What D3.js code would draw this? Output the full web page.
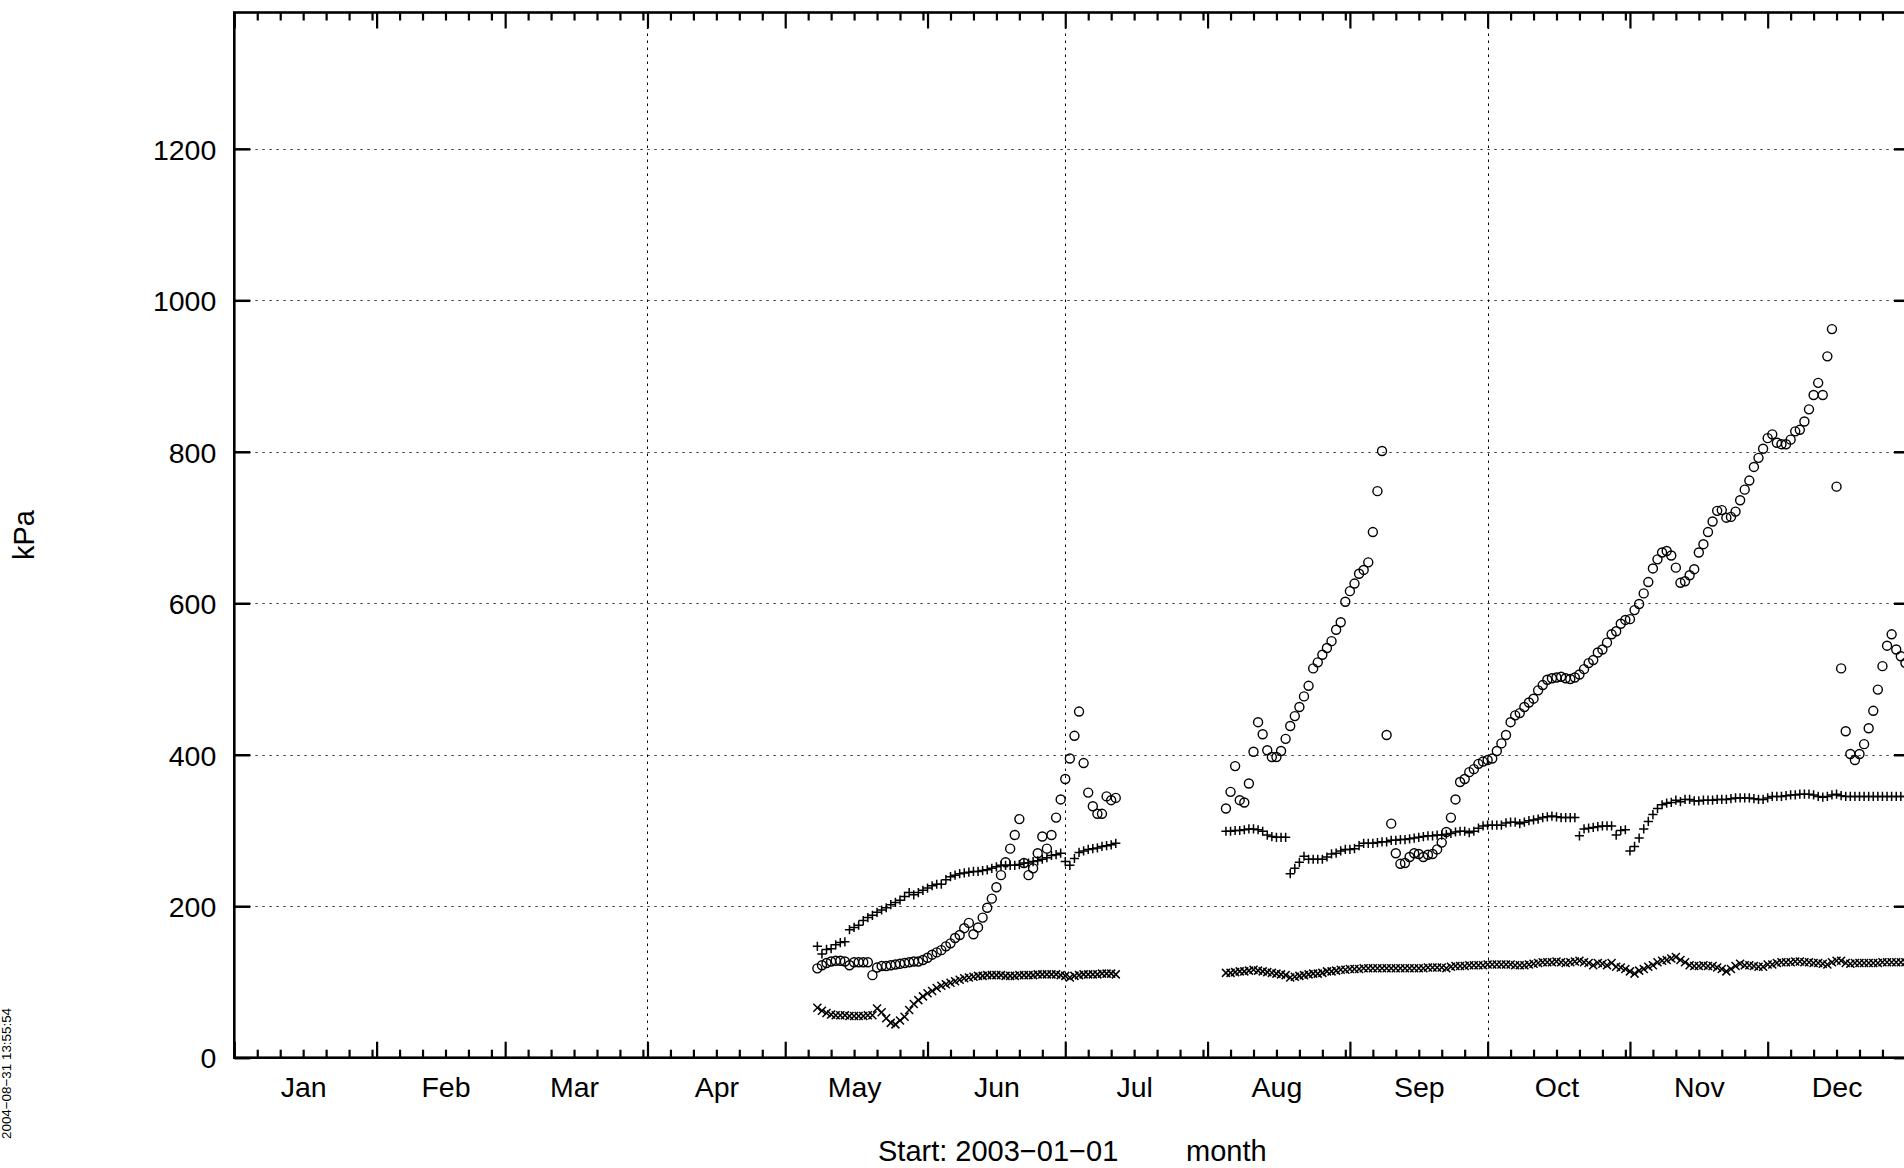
<!DOCTYPE html>
<html><head><meta charset="utf-8">
<script src="https://cdn.jsdelivr.net/npm/d3@7"></script>
<style>
body{margin:0;background:#fff}
svg{display:block}
text{font-family:"Liberation Sans",Arial,Helvetica,sans-serif;fill:#000}
</style>
</head><body>
<svg id="chart" width="1904" height="1168"></svg>
<script>
// ---------- data ----------
const monthLabels = ["Jan","Feb","Mar","Apr","May","Jun","Jul","Aug","Sep","Oct","Nov","Dec"];
const yTickValues = [0,200,400,600,800,1000,1200];
const yTitle = "kPa";
const xTitleStart = "Start: 2003\u221201\u221201";
const xTitleUnit = "month";
const stamp = "2004\u221208\u221231 13:55:54";

// first block of daily readings starts 2003-05-08
const seg1Start = "2003-05-08";
const seg1Plus = [147,137,143,144,149,152,153,
  169,172,175,181,185,188,192,195,198,202,205,208,213,218,215,218,221,224,227,229,229,235,239,241,243,244,245,246,246,247,248,250,252,254,254,254,254,255,257,257,259,260,262,264,267,268,270,
  259,254,263,271,273,275,276,277,279,280,281,283];
const seg1Cross = [66,62,59,57,56,56,56,55,55,55,55,56,56,65,60,52,46,44,49,54,63,71,76,81,85,88,92,95,97,99,101,103,105,106,107,108,108,109,109,109,109,108,108,108,109,109,109,109,110,110,110,110,110,109,108,106,108,109,110,110,110,110,111,111,111,110];
const seg1Circle = [118,122,125,127,128,128,127,122,126,126,126,126,109,119,121,121,122,123,124,125,126,127,127,129,132,136,139,142,147,151,158,162,171,178,163,172,185,198,210,225,241,258,276,294,315,257,241,250,270,292,276,294,317,341,368,395,425,457,389,350,332,322,322,345,340,343];

// second block of daily readings starts 2003-08-05
const seg2Start = "2003-08-05";
const seg2Plus = [299,299,300,300,301,302,302,301,299,294,292,291,291,291,
  243,250,258,266,262,262,262,262,265,269,270,273,275,275,276,280,283,283,283,284,285,285,287,287,288,288,289,290,291,292,293,293,294,294,295,296,298,299,299,297,299,303,306,307,307,307,307,310,311,311,309,311,313,314,315,317,318,319,
  318,317,317,317,317,293,302,303,304,305,306,306,306,294,300,301,273,279,290,302,312,321,329,334,336,337,340,338,341,341,339,339,340,340,340,341,341,341,342,343,343,343,343,342,341,341,343,345,345,345,346,347,347,348,348,348,347,345,344,345,347,348,346,345,345,345,345,345,345,345,345,345,345,345,345,345,345];
const seg2Cross = [112,112,113,114,114,115,116,115,114,113,112,111,110,109,
  106,107,108,109,110,111,111,112,114,114,115,116,116,117,117,117,118,118,118,118,118,118,118,118,118,118,118,118,118,118,119,119,119,119,118,120,121,121,121,122,122,122,122,123,123,123,123,123,123,122,122,122,123,124,125,126,126,
  126,127,126,125,126,127,128,126,125,122,125,124,122,125,120,119,117,114,111,115,117,120,122,126,128,129,131,133,129,126,122,121,121,122,121,121,119,117,114,117,121,124,122,122,121,120,120,123,123,125,126,126,126,127,127,126,126,125,125,124,123,126,128,128,125,124,125,125,125,125,125,125,126,126,126,126,126,126];
const seg2Circle = [329,351,385,340,337,362,404,443,427,406,397,397,405,421,438,451,463,477,491,514,522,532,541,550,565,575,602,616,626,639,644,654,694,748,801,426,
  309,270,256,257,265,270,269,265,268,269,275,284,298,317,341,364,368,377,381,388,391,393,395,405,415,426,443,452,455,463,469,474,485,492,499,
  501,502,503,501,500,502,506,513,521,525,535,539,548,559,563,573,578,579,591,599,613,628,646,658,667,669,663,647,627,629,637,645,667,678,694,708,722,723,713,714,721,736,750,762,780,792,804,818,823,812,810,810,816,827,829,840,856,875,891,875,926,962,754,514,431,401,393,401,414,435,458,486,517,544,559,539,530,521];

// ---------- layout ----------
const W = 1904, H = 1168;
const L = 234.3, R = 1910, T = 12.5, B = 1057.7;
const svg = d3.select("#chart");
svg.append("rect").attr("width",W).attr("height",H).attr("fill","#fff");

const parse = d3.utcParse("%Y-%m-%d");
const x0 = new Date(Date.UTC(2003,0,1)), x1 = new Date(Date.UTC(2004,0,1));
const x = d3.scaleUtc().domain([x0,x1]).range([L,R]);
const y = d3.scaleLinear().domain([0,1380]).range([B,T]);

function series(start, vals){
  const s = parse(start);
  return vals.map((v,i)=>({date:d3.utcDay.offset(s,i), v}));
}

// grid
const grid = svg.append("g").attr("stroke","#000").attr("stroke-width",1).attr("stroke-dasharray","2.5,4.5").attr("fill","none");
yTickValues.filter(v=>v>0).forEach(v=>{
  grid.append("line").attr("x1",L).attr("x2",R).attr("y1",Math.round(y(v))+0.5).attr("y2",Math.round(y(v))+0.5).attr("stroke","#444");
});
const quarterStarts = d3.utcMonth.every(3).range(d3.utcDay.offset(x0,1), x1);
quarterStarts.forEach(d=>{
  grid.append("line").attr("x1",Math.round(x(d))+0.5).attr("x2",Math.round(x(d))+0.5).attr("y1",T).attr("y2",B);
});

// month ticks
const monthStarts = d3.utcMonth.range(x0, d3.utcDay.offset(x1,1));
const minor = [];
d3.utcMonth.range(x0,x1).forEach(m=>{
  const n = d3.utcDay.count(m, d3.utcMonth.offset(m,1));
  for(let k=5;k<n;k+=5) minor.push(d3.utcDay.offset(m,k));
});
function styleAxis(g){
  g.select(".domain").remove();
  g.selectAll(".tick line").attr("stroke","#000").attr("stroke-width",2.2);
}
svg.append("g").attr("transform",`translate(0,${B})`)
  .call(d3.axisBottom(x).tickValues(monthStarts).tickSize(-16).tickFormat("")).call(styleAxis);
svg.append("g").attr("transform",`translate(0,${B})`)
  .call(d3.axisBottom(x).tickValues(minor).tickSize(-8).tickFormat("")).call(styleAxis);
svg.append("g").attr("transform",`translate(0,${T})`)
  .call(d3.axisTop(x).tickValues(monthStarts).tickSize(-16).tickFormat("")).call(styleAxis);
svg.append("g").attr("transform",`translate(0,${T})`)
  .call(d3.axisTop(x).tickValues(minor).tickSize(-8).tickFormat("")).call(styleAxis);

// month labels, 15 days after each month start
const labelDates = d3.utcMonth.range(x0,x1).map(m=>d3.utcDay.offset(m,15));
const xl = svg.append("g").attr("transform",`translate(0,${B})`)
  .call(d3.axisBottom(x).tickValues(labelDates).tickSize(0).tickPadding(0).tickFormat((d,i)=>monthLabels[i]));
xl.select(".domain").remove();
xl.selectAll("text").attr("font-size",28.5).attr("font-family","Liberation Sans, Arial, sans-serif").attr("dy",null).attr("y",39);

// y axes
const yl = svg.append("g").attr("transform",`translate(${L},0)`)
  .call(d3.axisLeft(y).tickValues(yTickValues).tickSize(-16).tickPadding(18).tickFormat(d3.format("d")));
yl.select(".domain").remove();
yl.selectAll(".tick line").attr("stroke","#000").attr("stroke-width",2.5);
yl.selectAll("text").attr("font-size",28.5).attr("font-family","Liberation Sans, Arial, sans-serif").attr("dy","0.36em");
const yr = svg.append("g").attr("transform",`translate(${R},0)`)
  .call(d3.axisRight(y).tickValues(yTickValues).tickSize(-16).tickFormat(""));
yr.select(".domain").remove();
yr.selectAll(".tick line").attr("stroke","#000").attr("stroke-width",2.5);

// border
svg.append("rect").attr("x",L).attr("y",T).attr("width",R-L).attr("height",B-T)
  .attr("fill","none").attr("stroke","#000").attr("stroke-width",2.6);

// markers
const plusPath = "M-4.6,0H4.6M0,-4.6V4.6";
const crossPath = "M-4,-4L4,4M-4,4L4,-4";
function drawPts(data, kind){
  const g = svg.append("g").attr("fill","none").attr("stroke","#000").attr("stroke-width",1.5);
  if(kind==="o"){
    g.selectAll("circle").data(data).join("circle")
      .attr("cx",d=>x(d.date)).attr("cy",d=>y(d.v)).attr("r",4.5).attr("stroke-width",1.4);
  } else {
    g.selectAll("path").data(data).join("path")
      .attr("d",kind==="+"?plusPath:crossPath)
      .attr("transform",d=>`translate(${x(d.date)},${y(d.v)})`);
  }
}
drawPts(series(seg1Start,seg1Plus),"+");
drawPts(series(seg2Start,seg2Plus),"+");
drawPts(series(seg1Start,seg1Cross),"x");
drawPts(series(seg2Start,seg2Cross),"x");
drawPts(series(seg1Start,seg1Circle),"o");
drawPts(series(seg2Start,seg2Circle),"o");

// titles
svg.append("text").attr("transform",`translate(34,${(T+B)/2}) rotate(-90)`)
  .attr("text-anchor","middle").attr("font-size",29).text(yTitle);
svg.append("text").attr("x",878).attr("y",1161).attr("font-size",29).text(xTitleStart);
svg.append("text").attr("x",1186).attr("y",1161).attr("font-size",29).text(xTitleUnit);
svg.append("text").attr("transform",`translate(11,1139) rotate(-90)`)
  .attr("font-size",13.4).text(stamp);
</script>
</body></html>
